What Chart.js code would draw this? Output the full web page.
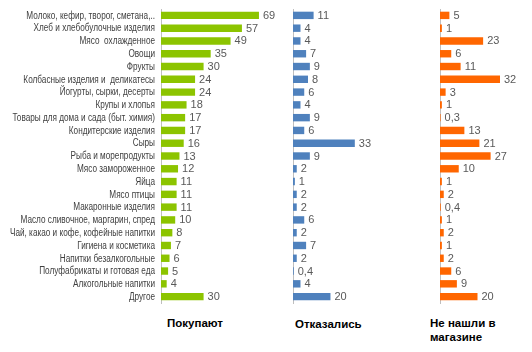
<!DOCTYPE html>
<html>
<head>
<meta charset="utf-8">
<script src="https://cdn.jsdelivr.net/npm/chart.js@4.4.1/dist/chart.umd.min.js"></script>
<style>
  body { margin: 0; background: #fff; width: 532px; height: 352px; position: relative; overflow: hidden; }
  canvas { position: absolute; top: 0; }
  .ttl { position: absolute; font: bold 11.5px "Liberation Sans", Arial, sans-serif; color: #000; line-height: 14px; }
</style>
</head>
<body>
<canvas id="c1" style="left:0px" width="276" height="310"></canvas>
<canvas id="c2" style="left:291px" width="135" height="310"></canvas>
<canvas id="c3" style="left:438px" width="92" height="310"></canvas>
<div class="ttl" style="left:167px; top:316px;">Покупают</div>
<div class="ttl" style="left:295px; top:317px;">Отказались</div>
<div class="ttl" style="left:430px; top:316px;">Не нашли в<br>магазине</div>
<script>
// категории товаров
const categories = [
  "Молоко, кефир, творог, сметана,..",
  "Хлеб и хлебобулочные изделия",
  "Мясо  охлажденное",
  "Овощи",
  "Фрукты",
  "Колбасные изделия и  деликатесы",
  "Йогурты, сырки, десерты",
  "Крупы и хлопья",
  "Товары для дома и сада (быт. химия)",
  "Кондитерские изделия",
  "Сыры",
  "Рыба и морепродукты",
  "Мясо замороженное",
  "Яйца",
  "Мясо птицы",
  "Макаронные изделия",
  "Масло сливочное, маргарин, спред",
  "Чай, какао и кофе, кофейные напитки",
  "Гигиена и косметика",
  "Напитки безалкогольные",
  "Полуфабрикаты и готовая еда",
  "Алкогольные напитки",
  "Другое",
];

// значения трёх серий
const buyValues = [69, 57, 49, 35, 30, 24, 24, 18, 17, 17, 16, 13, 12, 11, 11, 11, 10, 8, 7, 6, 5, 4, 30];
const refusedValues = [11, 4, 4, 7, 9, 8, 6, 4, 9, 6, 33, 9, 2, 1, 2, 2, 6, 2, 7, 2, 0.4, 4, 20];
const notFoundValues = [5, 1, 23, 6, 11, 32, 3, 1, 0.3, 13, 21, 27, 10, 1, 2, 0.4, 1, 2, 1, 2, 6, 9, 20];

const seriesNames = ["Покупают", "Отказались", "Не нашли в магазине"];

// подписи значений справа от полос
const valueLabels = {
  id: "valueLabels",
  afterDatasetsDraw(chart) {
    const ctx = chart.ctx;
    ctx.save();
    ctx.font = "11px 'Liberation Sans', Arial, sans-serif";
    ctx.fillStyle = "#595959";
    ctx.textBaseline = "middle";
    ctx.textAlign = "left";
    const meta = chart.getDatasetMeta(0);
    meta.data.forEach((bar, i) => {
      const v = chart.data.datasets[0].data[i];
      ctx.fillText(String(v).replace(".", ","), bar.x + 4, bar.y + 0.5);
    });
    ctx.restore();
  },
};

// подписи категорий - узкий шрифт (сжимаем по горизонтали)
const narrowTicks = {
  id: "narrowTicks",
  afterDraw(chart) {
    if (!chart.options.plugins.narrowTicks) return;
    const ctx = chart.ctx;
    const y = chart.scales.y;
    const right = chart.chartArea.left - 6;
    const k = 0.82;
    ctx.save();
    ctx.font = "10px 'Liberation Sans', Arial, sans-serif";
    ctx.fillStyle = "#404040";
    ctx.textBaseline = "middle";
    ctx.textAlign = "right";
    ctx.scale(k, 1);
    chart.data.labels.forEach((lab, i) => {
      ctx.fillText(lab, right / k, y.getPixelForTick(i) + 0.5);
    });
    ctx.restore();
  },
};

function makeChart(id, name, values, color, maxX, withLabels) {
  return new Chart(document.getElementById(id), {
    type: "bar",
    plugins: [valueLabels, narrowTicks],
    data: {
      labels: categories,
      datasets: [{
        label: name,
        data: values,
        backgroundColor: color,
        barPercentage: 0.58,
        categoryPercentage: 1,
      }],
    },
    options: {
      indexAxis: "y",
      responsive: false,
      animation: false,
      layout: { padding: { top: 9, bottom: 7, left: withLabels ? 0 : 2, right: 0 } },
      plugins: { legend: { display: false }, tooltip: { enabled: false }, narrowTicks: withLabels },
      scales: {
        x: { display: false, min: 0, max: maxX },
        y: {
          grid: { display: false, drawTicks: false },
          border: { display: true, color: "#bfbfbf" },
          ticks: { display: false },
          afterFit: (s) => { s.width = withLabels ? 161 : 0; },
        },
      },
    },
  });
}

makeChart("c1", seriesNames[0], buyValues, "#8cc400", 81, true);
makeChart("c2", seriesNames[1], refusedValues, "#4f81bd", 71, false);
makeChart("c3", seriesNames[2], notFoundValues, "#ff6600", 48, false);
</script>
</body>
</html>
